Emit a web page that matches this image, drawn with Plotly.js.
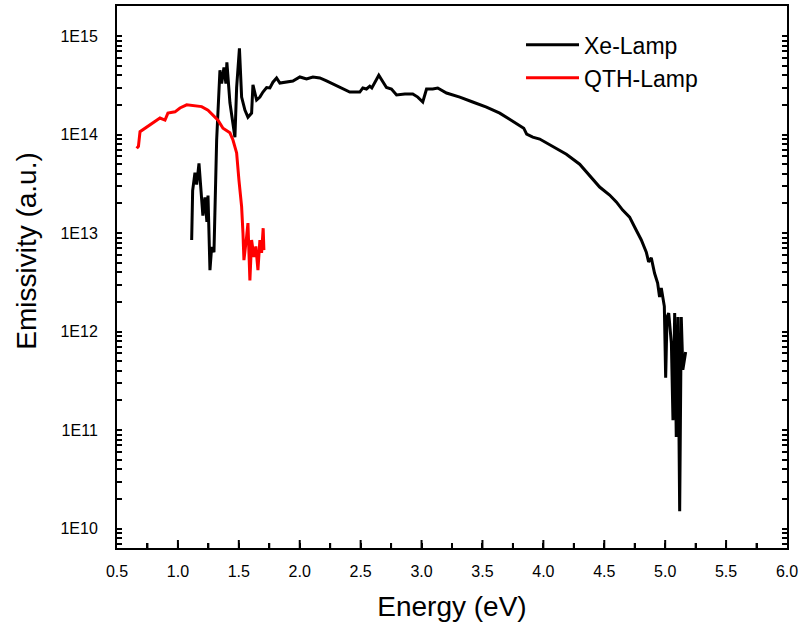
<!DOCTYPE html>
<html><head><meta charset="utf-8">
<script src="https://cdn.plot.ly/plotly-3.0.1.min.js"></script>
<style>html,body{margin:0;padding:0;background:#fff}#chart{width:802px;height:634px}</style>
</head><body><div id="chart"></div>
<script>
const seriesNames = ['Xe-Lamp', 'QTH-Lamp'];

const xeEnergy = [1.113,1.121,1.140,1.154,1.173,1.195,1.205,1.222,1.238,1.247,1.263,1.277,1.296,1.318,1.345,1.359,1.378,1.394,1.402,1.427,1.468,1.482,1.505,1.523,1.550,1.575,1.605,1.616,1.646,1.673,1.698,1.728,1.755,1.780,1.810,1.837,1.892,1.944,2.001,2.056,2.108,2.165,2.220,2.272,2.329,2.384,2.411,2.493,2.518,2.548,2.575,2.592,2.649,2.712,2.753,2.795,2.863,2.928,2.969,3.010,3.041,3.092,3.133,3.205,3.314,3.420,3.533,3.642,3.697,3.749,3.806,3.839,3.863,3.913,3.970,4.077,4.189,4.298,4.380,4.462,4.544,4.599,4.651,4.708,4.749,4.804,4.845,4.864,4.886,4.913,4.938,4.954,4.968,4.982,4.993,5.004,5.015,5.029,5.051,5.064,5.078,5.091,5.105,5.119,5.132,5.145,5.168];
const xeEmissivity = [8.5e12,2.7e13,4.1e13,3.1e13,5.1e13,2.4e13,1.5e13,2.3e13,1.3e13,2.4e13,4.2e12,7.2e12,6.4e12,8.8e13,4.5e14,3.3e14,4.8e14,3.3e14,5.4e14,2.1e14,9.4e13,3.0e14,7.5e14,2.4e14,1.77e14,1.5e14,1.65e14,3.2e14,2.24e14,2.4e14,2.7e14,3.0e14,2.97e14,3.4e14,3.75e14,3.33e14,3.4e14,3.5e14,3.84e14,3.66e14,3.84e14,3.75e14,3.5e14,3.26e14,3.03e14,2.83e14,2.7e14,2.7e14,2.97e14,2.9e14,3.1e14,2.97e14,4.0e14,3.0e14,2.9e14,2.52e14,2.58e14,2.58e14,2.4e14,2.14e14,2.9e14,2.9e14,2.97e14,2.64e14,2.4e14,2.14e14,1.9e14,1.65e14,1.5e14,1.37e14,1.25e14,1.16e14,1.01e14,9.4e13,9.0e13,7.6e13,6.3e13,5.0e13,3.8e13,2.93e13,2.43e13,2.07e13,1.71e13,1.45e13,1.15e13,8.5e12,6.4e12,5.1e12,5.6e12,3.9e12,3.1e12,2.24e12,2.77e12,2.24e12,1.8e12,3.4e11,1.4e12,1.54e12,7.6e11,1.26e11,1.54e12,8.5e10,1.4e12,1.5e10,1.4e12,4.1e11,6.2e11];

const qthEnergy = [0.662,0.676,0.689,0.730,0.771,0.812,0.853,0.894,0.918,0.976,1.017,1.072,1.140,1.195,1.247,1.288,1.329,1.370,1.427,1.452,1.482,1.501,1.523,1.534,1.542,1.564,1.575,1.591,1.605,1.624,1.640,1.657,1.673,1.687,1.700,1.706];
const qthEmissivity = [7.24e13,7.6e13,1.07e14,1.16e14,1.25e14,1.35e14,1.47e14,1.40e14,1.65e14,1.70e14,1.86e14,2.0e14,1.95e14,1.92e14,1.77e14,1.58e14,1.40e14,1.16e14,1.04e14,8.8e13,6.5e13,3.45e13,1.85e13,1.0e13,5.3e12,9.2e12,1.26e13,3.3e12,8.5e12,5.7e12,7.3e12,4.2e12,8.5e12,6.3e12,1.12e13,6.7e12];

const xTickLabels = ['0.5','1.0','1.5','2.0','2.5','3.0','3.5','4.0','4.5','5.0','5.5','6.0'];
const yTickVals = [1e10, 1e11, 1e12, 1e13, 1e14, 1e15];
const yTickText = ['1E10', '1E11', '1E12', '1E13', '1E14', '1E15'];

const FONT = 'Liberation Sans, Arial, sans-serif';
const X_RANGE = [0.5, 6.0];
const Y_RANGE = [9.802, 15.305];
const PLOT_W = 802 - 117 - 15, PLOT_H = 634 - 6 - 86;
const MAJOR_LEN = 8, MINOR_LEN = 5;

// tick arrays: major ticks labelled, minor ticks unlabelled
const xMajorVals = xTickLabels.map(Number);
const xAllVals = [], xAllText = [], xIsMajor = [];
xMajorVals.forEach((v, i) => {
  xAllVals.push(v); xAllText.push(xTickLabels[i]); xIsMajor.push(true);
  if (i < xMajorVals.length - 1) { xAllVals.push(v + 0.25); xAllText.push(''); xIsMajor.push(false); }
});
const yAllVals = [], yAllText = [], yIsMajor = [];
for (let d = 9; d <= 15; d++) {
  for (let k = 1; k <= 9; k++) {
    const v = k * Math.pow(10, d);
    const idx = yTickVals.indexOf(v);
    yAllVals.push(v); yAllText.push(k === 1 && idx >= 0 ? yTickText[idx] : ''); yIsMajor.push(k === 1);
  }
}

// inside tick marks (drawn as axis-referenced decorations so they are always visible)
const tickShapes = [];
const tickLine = {color: '#000', width: 2};
xAllVals.forEach((v, i) => {
  if (v <= X_RANGE[0] || v >= X_RANGE[1]) return;
  const len = (xIsMajor[i] ? MAJOR_LEN : MINOR_LEN) / PLOT_H;
  tickShapes.push({type: 'line', layer: 'above', xref: 'x', yref: 'paper', x0: v, x1: v, y0: 0, y1: len, line: tickLine});
});
yAllVals.forEach((v, i) => {
  const lv = Math.log10(v);
  if (lv <= Y_RANGE[0] || lv >= Y_RANGE[1]) return;
  const len = (yIsMajor[i] ? MAJOR_LEN : MINOR_LEN) / PLOT_W;
  tickShapes.push({type: 'line', layer: 'above', xref: 'paper', yref: 'y', x0: 0, x1: len, y0: lv, y1: lv, line: tickLine});
  tickShapes.push({type: 'line', layer: 'above', xref: 'paper', yref: 'y', x0: 1, x1: 1 - len, y0: lv, y1: lv, line: tickLine});
});

const traces = [
  {x: xeEnergy, y: xeEmissivity, name: seriesNames[0], type: 'scatter', mode: 'lines',
   line: {color: '#000000', width: 3}},
  {x: qthEnergy, y: qthEmissivity, name: seriesNames[1], type: 'scatter', mode: 'lines',
   line: {color: '#ff0000', width: 3}}
];

const layout = {
  width: 802, height: 634,
  margin: {l: 117, r: 15, t: 6, b: 86},
  paper_bgcolor: '#ffffff', plot_bgcolor: '#ffffff',
  font: {family: FONT, color: '#000000', size: 16},
  showlegend: true,
  legend: {x: 0.603, y: 0.968, xanchor: 'left', yanchor: 'top', bgcolor: 'rgba(0,0,0,0)',
           font: {family: FONT, size: 23, color: '#000'}, tracegroupgap: 0},
  shapes: tickShapes,
  xaxis: {
    range: X_RANGE, tickmode: 'array', tickvals: xAllVals, ticktext: xAllText,
    showgrid: false, zeroline: false,
    showline: true, linecolor: '#000', linewidth: 2, mirror: true,
    ticks: 'inside', ticklen: MINOR_LEN, tickwidth: 2, tickcolor: '#000',
    ticklabelstandoff: 8,
    tickfont: {family: FONT, size: 16},
    title: {text: 'Energy (eV)', font: {family: FONT, size: 28}, standoff: 17}
  },
  yaxis: {
    type: 'log', range: Y_RANGE,
    tickmode: 'array', tickvals: yAllVals, ticktext: yAllText,
    showgrid: false, zeroline: false,
    showline: true, linecolor: '#000', linewidth: 2, mirror: 'ticks',
    ticks: 'inside', ticklen: MINOR_LEN, tickwidth: 2, tickcolor: '#000',
    ticklabelstandoff: 14,
    tickfont: {family: FONT, size: 16},
    title: {text: 'Emissivity (a.u.)', font: {family: FONT, size: 28}, standoff: 16}
  }
};

Plotly.newPlot('chart', traces, layout, {displayModeBar: false, staticPlot: true}).then(() => {
  // lengthen legend line samples to match the reference
  document.querySelectorAll('.legend [clip-path]').forEach(e => e.removeAttribute('clip-path'));
  document.querySelectorAll('.legend .legendlines path').forEach(p => p.setAttribute('d', 'M5,0h53'));
  document.querySelectorAll('.legend .legendtext').forEach(t => t.setAttribute('x', '63'));
  // the reference y title sits slightly above the plot centre
  const yt = document.querySelector('.g-ytitle');
  if (yt) yt.setAttribute('transform', 'translate(0,-26)');
});
</script>
</body></html>
